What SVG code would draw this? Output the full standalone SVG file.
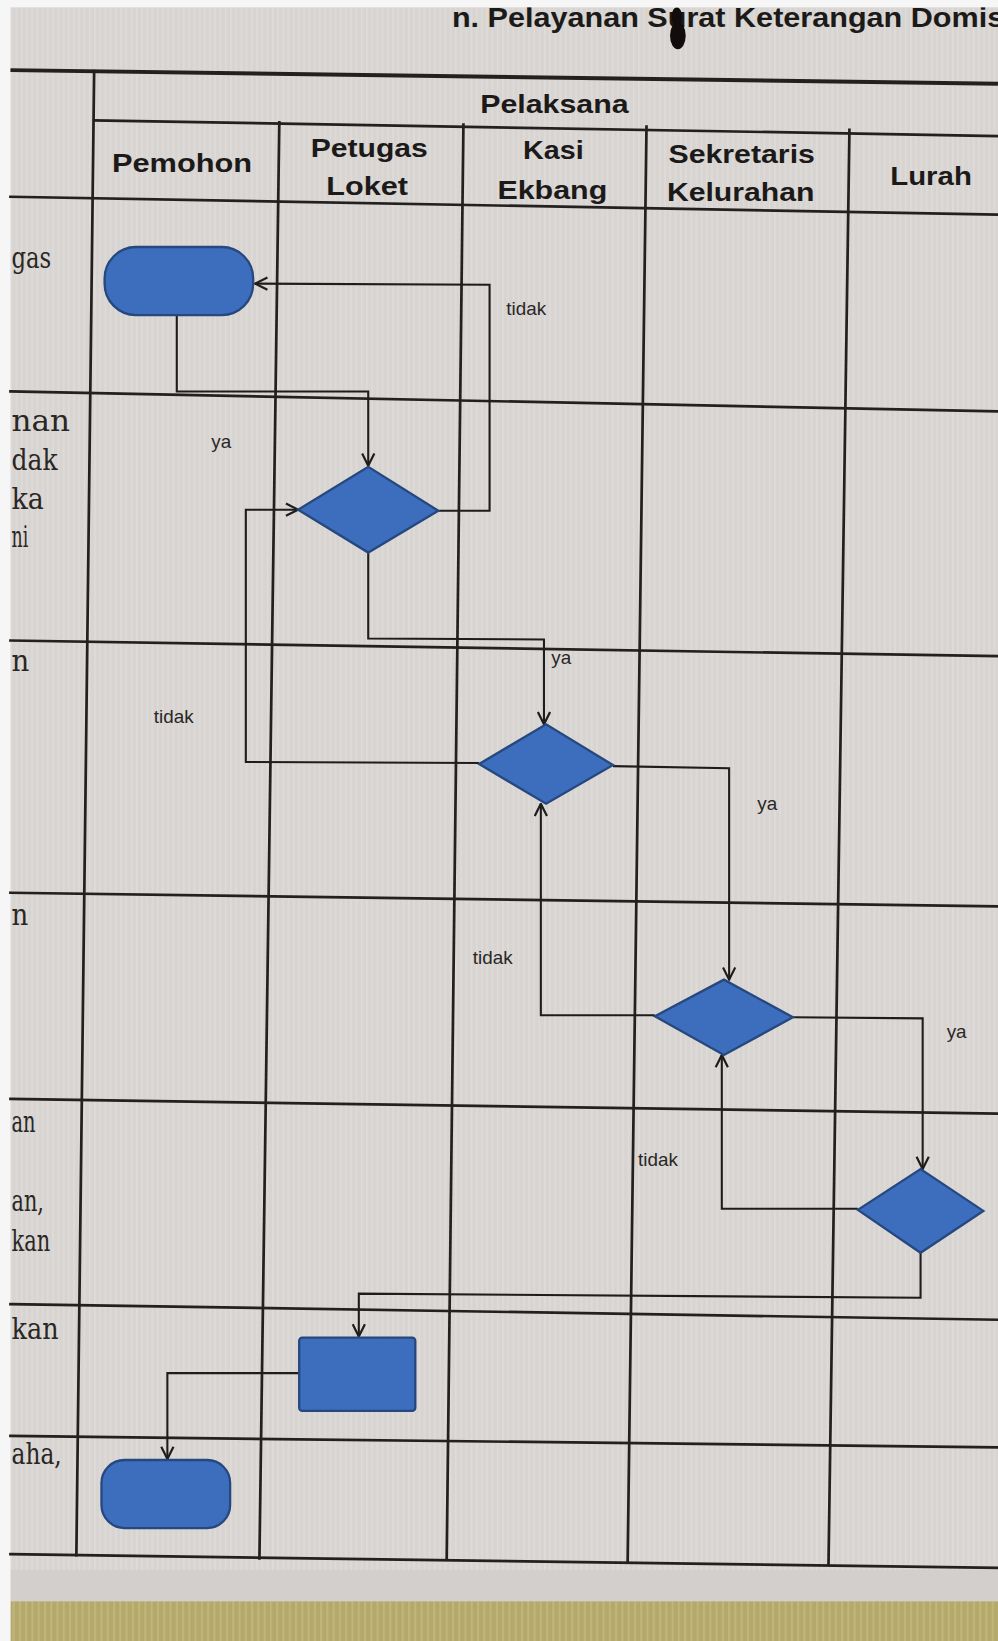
<svg xmlns="http://www.w3.org/2000/svg" width="998" height="1641" viewBox="0 0 998 1641">
<defs>
<style>
.grid{stroke:#232020;stroke-width:2.6;fill:none;stroke-linecap:square}
.thick{stroke:#232020;stroke-width:3.8;fill:none}
.conn{stroke:#1f1d1c;stroke-width:2;fill:none}
.shape{fill:#3d6dbd;stroke:#26487f;stroke-width:2.2}
.hdr{font-family:"Liberation Sans",Arial,sans-serif;font-weight:bold;font-size:24px;fill:#1c1a19;text-anchor:middle}
.lbl{font-family:"Liberation Sans",Arial,sans-serif;font-size:18px;fill:#2a2726}
.row{font-family:"DejaVu Serif","Liberation Serif",serif;font-size:28px;fill:#2a2624}
</style>
<marker id="arr" markerUnits="userSpaceOnUse" markerWidth="14" markerHeight="14" viewBox="0 0 12 12" refX="11" refY="6" orient="auto">
<path d="M1,1 L11,6 L1,11" fill="none" stroke="#1f1d1c" stroke-width="1.8"/>
</marker>
<pattern id="stripes" width="5" height="20" patternUnits="userSpaceOnUse">
<rect width="5" height="20" fill="#d7d4d2"/>
<rect width="1.5" height="20" fill="#dedbd9"/>
</pattern>
<pattern id="olive" width="6" height="20" patternUnits="userSpaceOnUse">
<rect width="6" height="20" fill="#b4a96b"/>
<rect width="2" height="20" fill="#c0b67a"/>
</pattern>
</defs>
<g transform="scale(1.0461,1.0466)">
<g id="background">
<rect x="0" y="0" width="954" height="1568" fill="url(#stripes)"/>
<rect x="10" y="1500" width="944" height="30" fill="#d2cfcc"/>
<rect x="10" y="1530" width="944" height="38" fill="url(#olive)"/>
</g>
<g id="title">
<text x="432" y="26" font-family="Liberation Sans,Arial,sans-serif" font-weight="bold" font-size="26" fill="#1c1a19" textLength="528" lengthAdjust="spacingAndGlyphs">n. Pelayanan Surat Keterangan Domis</text>
<ellipse cx="648" cy="34" rx="7.5" ry="13" fill="#120d0c"/>
<ellipse cx="647" cy="16" rx="5" ry="9" fill="#120d0c"/>
</g>
<g id="margins">
<rect x="0" y="0" width="10" height="1568" fill="#f6f6f6"/>
<rect x="0" y="0" width="954" height="7" fill="#f6f6f6"/>
</g>
<g id="grid">
<line class="thick" x1="10" y1="67" x2="954" y2="80"/>
<line class="grid" x1="90" y1="115" x2="954" y2="130"/>
<line class="grid" x1="10" y1="188" x2="954" y2="205"/>
<line class="grid" x1="10" y1="374" x2="954" y2="393"/>
<line class="grid" x1="10" y1="612" x2="954" y2="627"/>
<line class="grid" x1="10" y1="853" x2="954" y2="866"/>
<line class="grid" x1="10" y1="1050" x2="954" y2="1064"/>
<line class="grid" x1="10" y1="1246" x2="954" y2="1261"/>
<line class="grid" x1="10" y1="1372" x2="954" y2="1383"/>
<line class="grid" x1="10" y1="1485" x2="954" y2="1498"/>
<line class="grid" x1="90" y1="68" x2="73" y2="1486"/>
<line class="grid" x1="267" y1="117" x2="248" y2="1489"/>
<line class="grid" x1="443" y1="119" x2="427" y2="1490"/>
<line class="grid" x1="618" y1="121" x2="600" y2="1492"/>
<line class="grid" x1="812" y1="124" x2="792" y2="1494"/>
</g>
<g id="headers">
<text class="hdr" x="530" y="108" textLength="142" lengthAdjust="spacingAndGlyphs">Pelaksana</text>
<text class="hdr" x="174" y="164" textLength="134" lengthAdjust="spacingAndGlyphs">Pemohon</text>
<text class="hdr" x="353" y="150" textLength="112" lengthAdjust="spacingAndGlyphs">Petugas</text>
<text class="hdr" x="351" y="186" textLength="78" lengthAdjust="spacingAndGlyphs">Loket</text>
<text class="hdr" x="529" y="152" textLength="58" lengthAdjust="spacingAndGlyphs">Kasi</text>
<text class="hdr" x="528" y="190" textLength="105" lengthAdjust="spacingAndGlyphs">Ekbang</text>
<text class="hdr" x="709" y="156" textLength="140" lengthAdjust="spacingAndGlyphs">Sekretaris</text>
<text class="hdr" x="708" y="192" textLength="141" lengthAdjust="spacingAndGlyphs">Kelurahan</text>
<text class="hdr" x="890" y="177" textLength="78" lengthAdjust="spacingAndGlyphs">Lurah</text>
</g>
<g id="row-labels">
<text class="row" x="11" y="256" textLength="38" lengthAdjust="spacingAndGlyphs">gas</text>
<text class="row" x="11" y="412" textLength="56" lengthAdjust="spacingAndGlyphs">nan</text>
<text class="row" x="11" y="449" textLength="44" lengthAdjust="spacingAndGlyphs">dak</text>
<text class="row" x="11" y="486" textLength="31" lengthAdjust="spacingAndGlyphs">ka</text>
<text class="row" x="11" y="523" textLength="16" lengthAdjust="spacingAndGlyphs">ni</text>
<text class="row" x="11" y="641" textLength="17" lengthAdjust="spacingAndGlyphs">n</text>
<text class="row" x="11" y="884" textLength="16" lengthAdjust="spacingAndGlyphs">n</text>
<text class="row" x="11" y="1082" textLength="23" lengthAdjust="spacingAndGlyphs">an</text>
<text class="row" x="11" y="1157" textLength="31" lengthAdjust="spacingAndGlyphs">an,</text>
<text class="row" x="11" y="1195" textLength="37" lengthAdjust="spacingAndGlyphs">kan</text>
<text class="row" x="11" y="1279" textLength="45" lengthAdjust="spacingAndGlyphs">kan</text>
<text class="row" x="11" y="1399" textLength="48" lengthAdjust="spacingAndGlyphs">aha,</text>
</g>
<g id="connectors">
<polyline class="conn" points="169,301 169,374 352,374 352,445" marker-end="url(#arr)"/>
<polyline class="conn" points="419,488 468,488 468,272 244,271" marker-end="url(#arr)"/>
<polyline class="conn" points="352,528 352,610 520,611 520,692" marker-end="url(#arr)"/>
<polyline class="conn" points="458,729 235,728 235,487 285,487" marker-end="url(#arr)"/>
<polyline class="conn" points="586,732 697,734 697,936" marker-end="url(#arr)"/>
<polyline class="conn" points="626,970 517,970 517,768" marker-end="url(#arr)"/>
<polyline class="conn" points="758,972 882,973 882,1117" marker-end="url(#arr)"/>
<polyline class="conn" points="820,1155 690,1155 690,1008" marker-end="url(#arr)"/>
<polyline class="conn" points="880,1197 880,1240 343,1236 343,1277" marker-end="url(#arr)"/>
<polyline class="conn" points="286,1312 160,1312 160,1394" marker-end="url(#arr)"/>
<text class="lbl" x="484" y="301">tidak</text>
<text class="lbl" x="202" y="428">ya</text>
<text class="lbl" x="527" y="634">ya</text>
<text class="lbl" x="147" y="691">tidak</text>
<text class="lbl" x="724" y="774">ya</text>
<text class="lbl" x="452" y="921">tidak</text>
<text class="lbl" x="905" y="992">ya</text>
<text class="lbl" x="610" y="1114">tidak</text>
</g>
<g id="start"><rect class="shape" x="100" y="236" width="142" height="65" rx="30"/></g>
<g id="decision1"><polygon class="shape" points="285,487 352,446 419,488 352,528"/></g>
<g id="decision2"><polygon class="shape" points="458,730 522,692 586,731 522,768"/></g>
<g id="decision3"><polygon class="shape" points="626,971 692,936 758,972 692,1008"/></g>
<g id="decision4"><polygon class="shape" points="820,1156 880,1117 940,1157 880,1197"/></g>
<g id="process"><rect class="shape" x="286" y="1278" width="111" height="70" rx="3"/></g>
<g id="end"><rect class="shape" x="97" y="1395" width="123" height="65" rx="22"/></g>
</g>
</svg>
